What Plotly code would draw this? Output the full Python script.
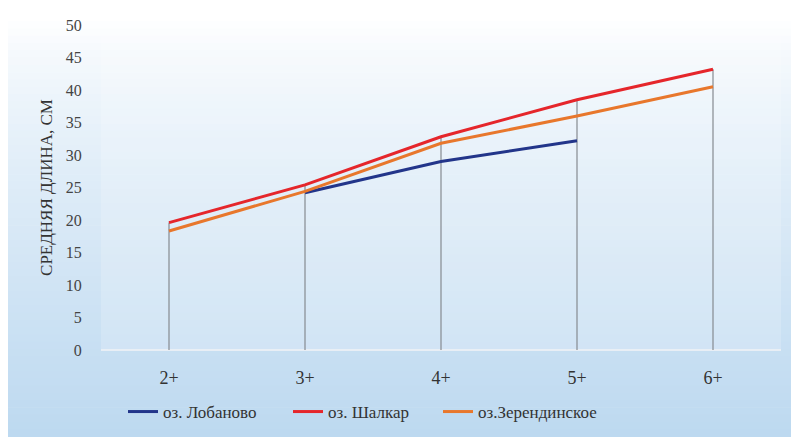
import plotly.graph_objects as go

# Средняя длина по возрастным группам
ages = ["2+", "3+", "4+", "5+", "6+"]
lobanovo = [None, 24.2, 29.0, 32.2, None]
shalkar = [19.6, 25.4, 32.8, 38.5, 43.2]
zerenda = [18.3, 24.4, 31.8, 36.0, 40.5]
y_ticks = [0, 5, 10, 15, 20, 25, 30, 35, 40, 45, 50]

W, H = 791, 437
M_L, M_R, M_T, M_B = 101, 10, 25, 87
PW, PH = W - M_L - M_R, H - M_T - M_B

FONT = "'Liberation Serif', 'DejaVu Serif', serif"


def px_to_paper_x(px):
    return (px - M_L) / PW


def px_to_paper_y(py):
    return (H - M_B - py) / PH


fig = go.Figure()

# Линии проекции: от оси до наибольшего значения в каждой группе
drop_x, drop_y = [], []
for i, a in enumerate(ages):
    vals = [s[i] for s in (lobanovo, shalkar, zerenda) if s[i] is not None]
    drop_x += [a, a, None]
    drop_y += [0, max(vals), None]
fig.add_trace(go.Scatter(x=drop_x, y=drop_y, mode="lines",
                         line=dict(color="#858a90", width=1.2),
                         showlegend=False, hoverinfo="skip"))

series = [
    ("оз. Лобаново", lobanovo, "#22358a", "legend", 123),
    ("оз. Шалкар", shalkar, "#e5262b", "legend2", 288),
    ("оз.Зерендинское", zerenda, "#e8772c", "legend3", 438),
]
legend_style = dict(orientation="h", xanchor="left",
                    yref="container", y=(H - 412) / H, yanchor="middle",
                    bgcolor="rgba(0,0,0,0)",
                    font=dict(family=FONT, size=17, color="#333333"),
                    itemwidth=30)
legends = {}
for name, vals, color, leg, lx in series:
    fig.add_trace(go.Scatter(x=ages, y=vals, mode="lines", name=name,
                             line=dict(color=color, width=3),
                             connectgaps=False, legend=leg))
    legends[leg] = dict(legend_style, x=px_to_paper_x(lx))

# Фон: вертикальный градиент от белого к светло-голубому
shapes = []
top_c = (255, 255, 255)
bot_c = (189, 217, 240)
n = 60
x0p, x1p = px_to_paper_x(8), px_to_paper_x(W)
for k in range(n):
    y0 = H * k / n
    y1 = H * (k + 1) / n
    t = (k + 0.5) / n
    t = min(1.0, max(0.0, (t - 0.05) / 0.95)) ** 0.75
    c = tuple(round(top_c[j] + (bot_c[j] - top_c[j]) * t) for j in range(3))
    shapes.append(dict(type="rect", xref="paper", yref="paper",
                       x0=x0p, x1=x1p,
                       y0=px_to_paper_y(y1), y1=px_to_paper_y(y0) + 0.002,
                       fillcolor="rgb(%d,%d,%d)" % c, line=dict(width=0),
                       layer="below"))
# Область построения чуть светлее фона
shapes.append(dict(type="rect", xref="paper", yref="paper", x0=0, x1=1,
                   y0=0, y1=1, fillcolor="rgba(255,255,255,0.18)",
                   line=dict(width=0), layer="below"))
shapes.append(dict(type="line", xref="paper", yref="paper", x0=0, x1=1,
                   y0=0, y1=0, line=dict(color="rgba(235,240,245,0.9)", width=2),
                   layer="below"))

fig.update_layout(
    width=W, height=H,
    margin=dict(l=M_L, r=M_R, t=M_T, b=M_B, autoexpand=False),
    paper_bgcolor="white",
    plot_bgcolor="rgba(0,0,0,0)",
    shapes=shapes,
    font=dict(family=FONT, color="#333333", size=15),
    xaxis=dict(type="category", range=[-0.5, 4.5], showgrid=False,
               zeroline=False, showline=False,
               ticks="outside", ticklen=11, tickcolor="rgba(0,0,0,0)",
               tickfont=dict(family=FONT, size=18, color="#333333")),
    yaxis=dict(range=[0, 50], tickvals=y_ticks, showgrid=False,
               zeroline=False, showline=False,
               ticks="outside", ticklen=15, tickcolor="rgba(0,0,0,0)",
               tickfont=dict(family=FONT, size=16, color="#444444"),
               title=dict(text="СРЕДНЯЯ ДЛИНА, СМ", standoff=8,
                          font=dict(family=FONT, size=17, color="#333333"))),
    showlegend=True,
    **legends,
)

fig.write_html("out.html")
